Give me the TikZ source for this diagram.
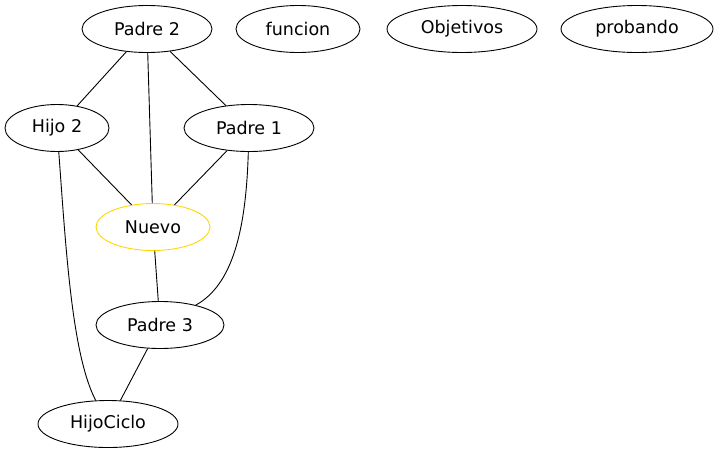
\documentclass[tikz,border=0pt]{standalone}
\usepackage{fontspec}
\setmainfont{DejaVu Sans}
\usetikzlibrary{shapes.geometric}
\definecolor{gold}{RGB}{255,215,0}
\begin{document}
\begin{tikzpicture}[x=1pt,y=-1pt,
  nd/.style={ellipse,draw=black,line width=0.9pt,inner sep=0pt,minimum height=47pt,font=\fontsize{17.5}{20}\selectfont},
  edge/.style={draw=black,line width=0.9pt}]
\useasboundingbox (0,0) rectangle (719,456);
\node[nd,minimum width=130pt] (p2) at (147,29) {Padre 2};
\node[nd,minimum width=124pt] (fu) at (298,29) {funcion};
\node[nd,minimum width=150pt] (ob) at (462,29) {Objetivos};
\node[nd,minimum width=152pt] (pr) at (637,29) {probando};
\node[nd,minimum width=104pt] (h2) at (57,128) {Hijo 2};
\node[nd,minimum width=130pt] (p1) at (249,128) {Padre 1};
\node[nd,minimum width=114pt,draw=gold] (nu) at (153,227) {Nuevo};
\node[nd,minimum width=128pt] (p3) at (160,325) {Padre 3};
\node[nd,minimum width=140pt] (hc) at (108,424) {HijoCiclo};
\draw[edge] (p2) -- (h2);
\draw[edge] (p2) -- (nu);
\draw[edge] (p2) -- (p1);
\draw[edge] (h2) -- (nu);
\draw[edge] (p1) -- (nu);
\draw[edge] (nu) -- (p3);
\draw[edge] (p3) -- (hc);
\draw[edge] (h2) .. controls (66,250) and (72,355) .. (hc);
\draw[edge] (p1) .. controls (246,232) and (232,285) .. (p3);
\end{tikzpicture}
\end{document}
